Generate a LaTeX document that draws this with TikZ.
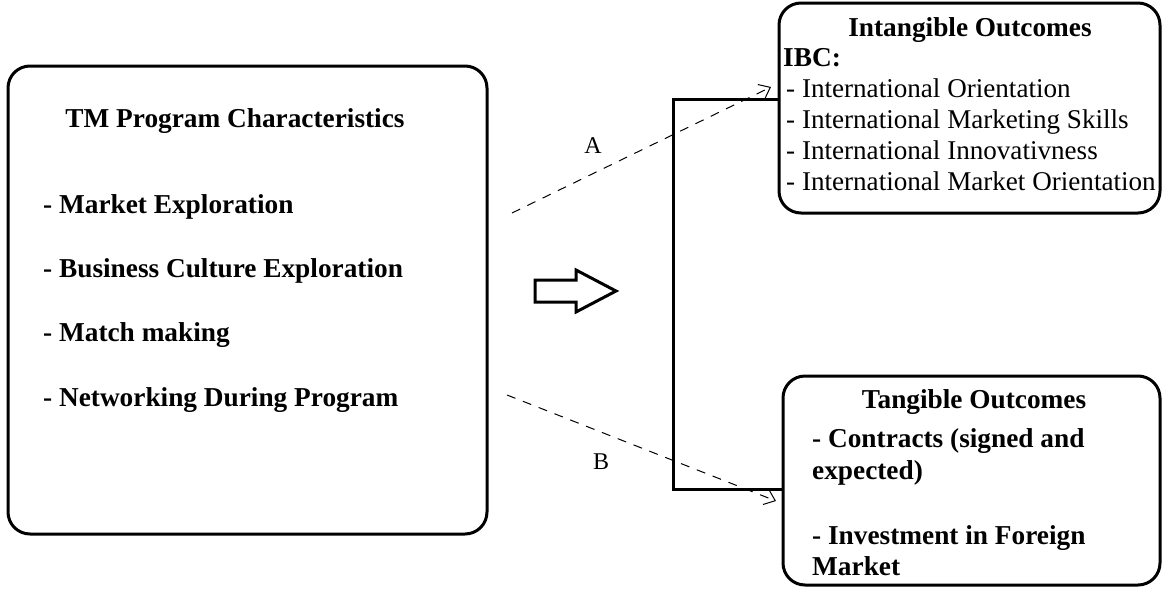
\documentclass[tikz,border=0pt]{standalone}
\usepackage{fontspec}
\setmainfont{Liberation Serif}
\usetikzlibrary{arrows.meta}
\begin{document}
\begin{tikzpicture}[x=1pt,y=-1pt,
  box/.style={draw,line width=3pt,rounded corners=22pt,inner sep=0pt},
  bt/.style={font=\fontsize{27.3}{31}\selectfont\bfseries,inner sep=0pt,text height=19pt,text depth=6pt,yshift=-3pt},
  rt/.style={font=\fontsize{27.1}{31}\selectfont,inner sep=0pt,text height=19pt,text depth=6pt,yshift=-3pt},
  lab/.style={font=\fontsize{24}{28}\selectfont,inner sep=0pt},
  dashline/.style={dash pattern=on 9pt off 8pt,line width=1pt,-{Straight Barb[length=10pt,width=16pt,line width=1pt]}},
  bracket/.style={line width=3pt}]
\useasboundingbox (0,0) rectangle (1164,589);
% boxes
\node[box,minimum width=479pt,minimum height=468pt] (left) at (247.5,300) {};
\node[box,minimum width=381pt,minimum height=210pt] (top) at (969.5,108) {};
\node[box,minimum width=377pt,minimum height=209pt] (bot) at (971.5,480.5) {};
% left texts
\node[bt] (lt) at (235,118) {TM Program Characteristics};
\node[bt,anchor=west] (l1) at (43,204) {- Market Exploration};
\node[bt,anchor=west] (l2) at (43,268) {- Business Culture Exploration};
\node[bt,anchor=west] (l3) at (43,332) {- Match making};
\node[bt,anchor=west] (l4) at (43,397) {- Networking During Program};
% top-right texts
\node[bt] (tt) at (970,27) {Intangible Outcomes};
\node[bt,anchor=west] (ibc) at (783,57) {IBC:};
\node[rt,anchor=west] (t1) at (786,88) {- International Orientation};
\node[rt,anchor=west] (t2) at (786,119) {- International Marketing Skills};
\node[rt,anchor=west] (t3) at (786,150) {- International Innovativness};
\node[rt,anchor=west] (t4) at (786,181) {- International Market Orientation};
% bottom-right texts
\node[bt] (bt0) at (974,399) {Tangible Outcomes};
\node[bt,anchor=west] (b1) at (812,438) {- Contracts (signed and};
\node[bt,anchor=west] (b2) at (812,470) {expected)};
\node[bt,anchor=west] (b3) at (812,535) {- Investment in Foreign};
\node[bt,anchor=west] (b4) at (812,566) {Market};
% bracket
\coordinate (bk1) at (779,99);
\coordinate (bk2) at (783,489);
\draw[bracket] (bk1) -- (673,99) -- (673,489) -- (bk2);
% dashed connectors
\coordinate (as) at (512,213);
\coordinate (ae) at (771,87);
\coordinate (bs) at (507,395);
\coordinate (be) at (776,501);
\draw[dashline] (as) -- (ae);
\draw[dashline] (bs) -- (be);
\node[lab] (A) at (593,146) {A};
\node[lab] (B) at (601,462) {B};
% block arrow
\draw[line width=3pt,line join=miter] (535,280) -- (576,280) -- (576,270) -- (616,291) -- (576,312) -- (576,302) -- (535,302) -- cycle;
\end{tikzpicture}
\end{document}
